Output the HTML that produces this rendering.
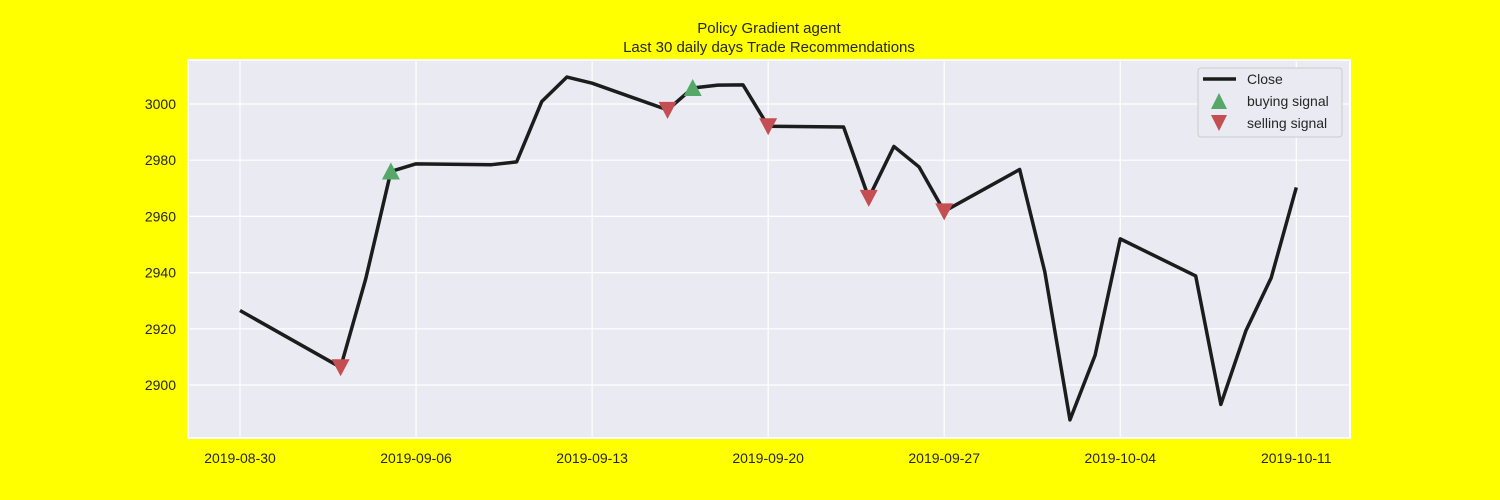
<!DOCTYPE html>
<html><head><meta charset="utf-8"><style>
html,body{margin:0;padding:0;background:#ffff00;}
svg{display:block;font-family:"Liberation Sans","DejaVu Sans",sans-serif;}
</style></head><body>
<svg id="chart" width="1500" height="500">
<text x="769" y="33" text-anchor="middle" font-size="15" fill="#262626">Policy Gradient agent</text>
<text x="769" y="52" text-anchor="middle" font-size="15" fill="#262626">Last 30 daily days Trade Recommendations</text>
<rect x="188" y="60" width="1162" height="378" fill="#eaeaf2" stroke="#ffffff" stroke-width="2"/>
<g id="grid"></g><g id="xt"></g><g id="yt"></g>
<path id="line" fill="none" stroke="#1c1c1c" stroke-width="3.5" stroke-linejoin="round"/>
<g id="marks"></g>
<g>
<rect x="1198" y="68" width="144" height="69" rx="3" fill="#eaeaf2" stroke="#cccccc"/>
<line x1="1203" y1="79" x2="1236" y2="79" stroke="#1c1c1c" stroke-width="3.5"/>
<text x="1247" y="84" font-size="14" fill="#262626">Close</text>
<polygon points="1219,93 1211,109 1227,109" fill="#55a868"/>
<text x="1247" y="106" font-size="14" fill="#262626">buying signal</text>
<polygon points="1211,115 1227,115 1219,131" fill="#c44e52"/>
<text x="1247" y="128" font-size="14" fill="#262626">selling signal</text>
</g>
</svg>
<script>
const days=[0,4,5,6,7,10,11,12,13,14,17,18,19,20,21,24,25,26,27,28,31,32,33,34,35,38,39,40,41,42];
const closes=[2926.5,2906.3,2937.8,2976,2978.7,2978.4,2979.4,3000.9,3009.6,3007.4,2997.9,3005.7,3006.7,3006.8,2992.1,2991.8,2966.6,2984.9,2977.6,2961.8,2976.7,2940.3,2887.6,2910.6,2952,2938.8,2893.1,2919.4,2938.1,2970.3];
const buyIdx=[3,11];
const sellIdx=[1,10,14,16,19];
const xTickDays=[0,7,14,21,28,35,42];
const xTickLabels=["2019-08-30","2019-09-06","2019-09-13","2019-09-20","2019-09-27","2019-10-04","2019-10-11"];
const yTicks=[2900,2920,2940,2960,2980,3000];
const X=d=>240+d*25.15;
const Y=v=>104+(3000-v)*2.81;
const ns="http://www.w3.org/2000/svg";
function mk(t,a,p){const e=document.createElementNS(ns,t);for(const k in a)e.setAttribute(k,a[k]);p.appendChild(e);return e;}
const grid=document.getElementById('grid'),xt=document.getElementById('xt'),yt=document.getElementById('yt'),marks=document.getElementById('marks');
xTickDays.forEach((d,i)=>{
 const l=mk('line',{x1:X(d),x2:X(d),y1:60,y2:438,stroke:'#fff','stroke-width':1.2},grid);
 
 
 const t=mk('text',{x:X(d),y:463,'text-anchor':'middle','font-size':14,fill:'#262626'},xt);
 t.textContent=xTickLabels[i];
 
 
});
yTicks.forEach(v=>{
 const l=mk('line',{x1:188,x2:1350,y1:Y(v),y2:Y(v),stroke:'#fff','stroke-width':1.2},grid);
 
 
 const t=mk('text',{x:176,y:Y(v)+5,'text-anchor':'end','font-size':14,fill:'#262626'},yt);
 t.textContent=v;
 
 
});
document.getElementById('line').setAttribute('d',days.map((d,i)=>(i?'L':'M')+X(d)+','+Y(closes[i])).join(''));
buyIdx.forEach(i=>{
 const x=X(days[i]),y=Y(closes[i]);
 const p=mk('polygon',{points:`${x},${y-9} ${x-9},${y+8} ${x+9},${y+8}`,fill:'#55a868'},marks);
 
 
});
sellIdx.forEach(i=>{
 const x=X(days[i]),y=Y(closes[i]);
 const p=mk('polygon',{points:`${x-9},${y-8} ${x+9},${y-8} ${x},${y+9}`,fill:'#c44e52'},marks);
 
 
});
</script>
</body></html>
